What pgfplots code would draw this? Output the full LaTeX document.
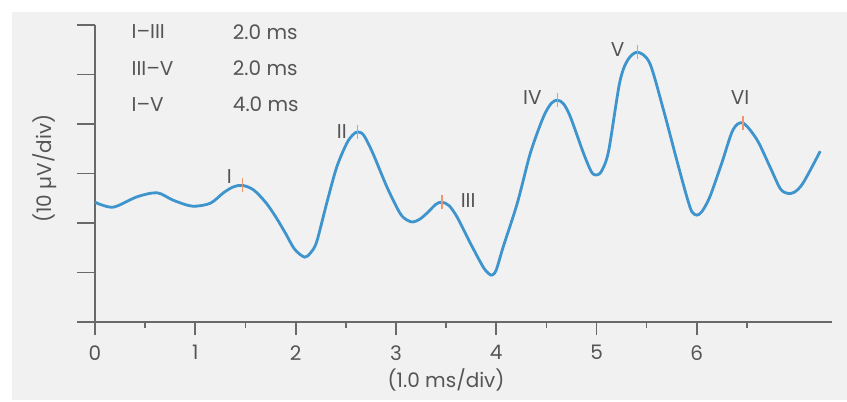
\documentclass[border=0pt]{standalone}
\usepackage{pgfplots}
\pgfplotsset{compat=1.18}
\usepackage{fontspec}
\setmainfont{Poppins}
\definecolor{curve}{RGB}{62,148,204}
\definecolor{peak}{RGB}{238,150,110}
\definecolor{axgray}{RGB}{105,105,105}
\definecolor{txt}{RGB}{85,85,85}
\definecolor{bg}{RGB}{241,241,241}
\newcommand{\fs}{\fontsize{20}{22}\selectfont}
\begin{document}
\begin{tikzpicture}
\begin{axis}[
  scale only axis, width=847pt, height=402pt,
  xmin=-0.947, xmax=7.497, ymin=-1.616, ymax=6.505,
  axis lines=none, ticks=none, clip=false,
]
\fill[white] (rel axis cs:0,0) rectangle (rel axis cs:1,1);
\fill[bg] (axis cs:-0.8275,-1.576) rectangle (axis cs:7.497,6.263);
% axes
\draw[axgray, line width=1.8pt] (axis cs:-0.18,0) -- (axis cs:7.35,0);
\draw[axgray, line width=1.8pt] (axis cs:0,-0.26) -- (axis cs:0,6.0);
\pgfplotsinvokeforeach{1,2,3,4,5,6}{
  \draw[axgray, line width=1.8pt] (axis cs:-0.18,#1) -- (axis cs:0,#1);
  \draw[axgray, line width=1.8pt] (axis cs:#1,0) -- (axis cs:#1,-0.26);
}
\pgfplotsinvokeforeach{0.5,1.5,2.5,3.5,4.5,5.5,6.5}{
  \draw[axgray, line width=1.6pt] (axis cs:#1,0) -- (axis cs:#1,-0.12);
}
\pgfplotsinvokeforeach{0,1,2,3,4,5,6}{
  \node[txt, font=\fs] at (axis cs:#1,-0.62) {#1};
}
\node[txt, font=\fs] at (axis cs:3.5,-1.18) {(1.0 ms/div)};
\node[txt, font=\fs, rotate=90] at (axis cs:-0.5,3.1) {(10 µV/div)};
% table
\node[txt, font=\fs, anchor=west] at (axis cs:0.33,5.86) {I–III};
\node[txt, font=\fs, anchor=west] at (axis cs:0.33,5.13) {III–V};
\node[txt, font=\fs, anchor=west] at (axis cs:0.33,4.39) {I–V};
\node[txt, font=\fs, anchor=west] at (axis cs:1.34,5.86) {2.0 ms};
\node[txt, font=\fs, anchor=west] at (axis cs:1.34,5.13) {2.0 ms};
\node[txt, font=\fs, anchor=west] at (axis cs:1.34,4.39) {4.0 ms};
% curve
\addplot[curve, line width=2.8pt, smooth, tension=0.5] coordinates {
(0,2.42) (0.18,2.32) (0.42,2.53) (0.62,2.61) (0.78,2.46) (0.97,2.34) (1.15,2.40)
(1.28,2.61) (1.38,2.73) (1.47,2.76) (1.58,2.67) (1.70,2.42) (1.80,2.13) (1.90,1.79)
(1.99,1.47) (2.09,1.31) (2.15,1.40)
(2.21,1.62) (2.31,2.40) (2.41,3.13) (2.51,3.61) (2.57,3.78) (2.62,3.84) (2.68,3.77) (2.77,3.41)
(2.91,2.73) (3.04,2.20) (3.11,2.06) (3.17,2.02) (3.24,2.08) (3.31,2.20) (3.40,2.38) (3.46,2.42) (3.53,2.35) (3.61,2.12)
(3.74,1.60) (3.87,1.11) (3.93,0.97) (3.96,0.95) (4.00,1.05) (4.07,1.52) (4.21,2.40) (4.34,3.41)
(4.47,4.14) (4.55,4.42) (4.61,4.48) (4.67,4.41) (4.74,4.14) (4.87,3.41) (4.95,3.03) (5.00,2.97) (5.05,3.05) (5.12,3.45)
(5.23,4.83) (5.31,5.29) (5.41,5.45) (5.53,5.23) (5.66,4.34) (5.80,3.27)
(5.90,2.53) (5.95,2.23) (6.00,2.16) (6.05,2.23) (6.13,2.53) (6.25,3.22) (6.36,3.88) (6.46,4.02)
(6.60,3.68) (6.73,3.13) (6.83,2.70) (6.90,2.60) (6.97,2.62) (7.06,2.81) (7.23,3.45)
};
% peak markers
\addplot[only marks, mark=|, mark size=7pt, mark options={peak, line width=1.2pt}] coordinates {
(1.47,2.76) (2.62,3.84) (3.46,2.42) (4.61,4.48) (5.41,5.45) (6.46,4.02)
};
\node[txt, font=\fs] at (axis cs:1.34,2.93) {I};
\node[txt, font=\fs] at (axis cs:2.46,3.84) {II};
\node[txt, font=\fs] at (axis cs:3.72,2.45) {III};
\node[txt, font=\fs] at (axis cs:4.36,4.53) {IV};
\node[txt, font=\fs] at (axis cs:5.21,5.51) {V};
\node[txt, font=\fs] at (axis cs:6.43,4.54) {VI};
\end{axis}
\end{tikzpicture}
\end{document}
